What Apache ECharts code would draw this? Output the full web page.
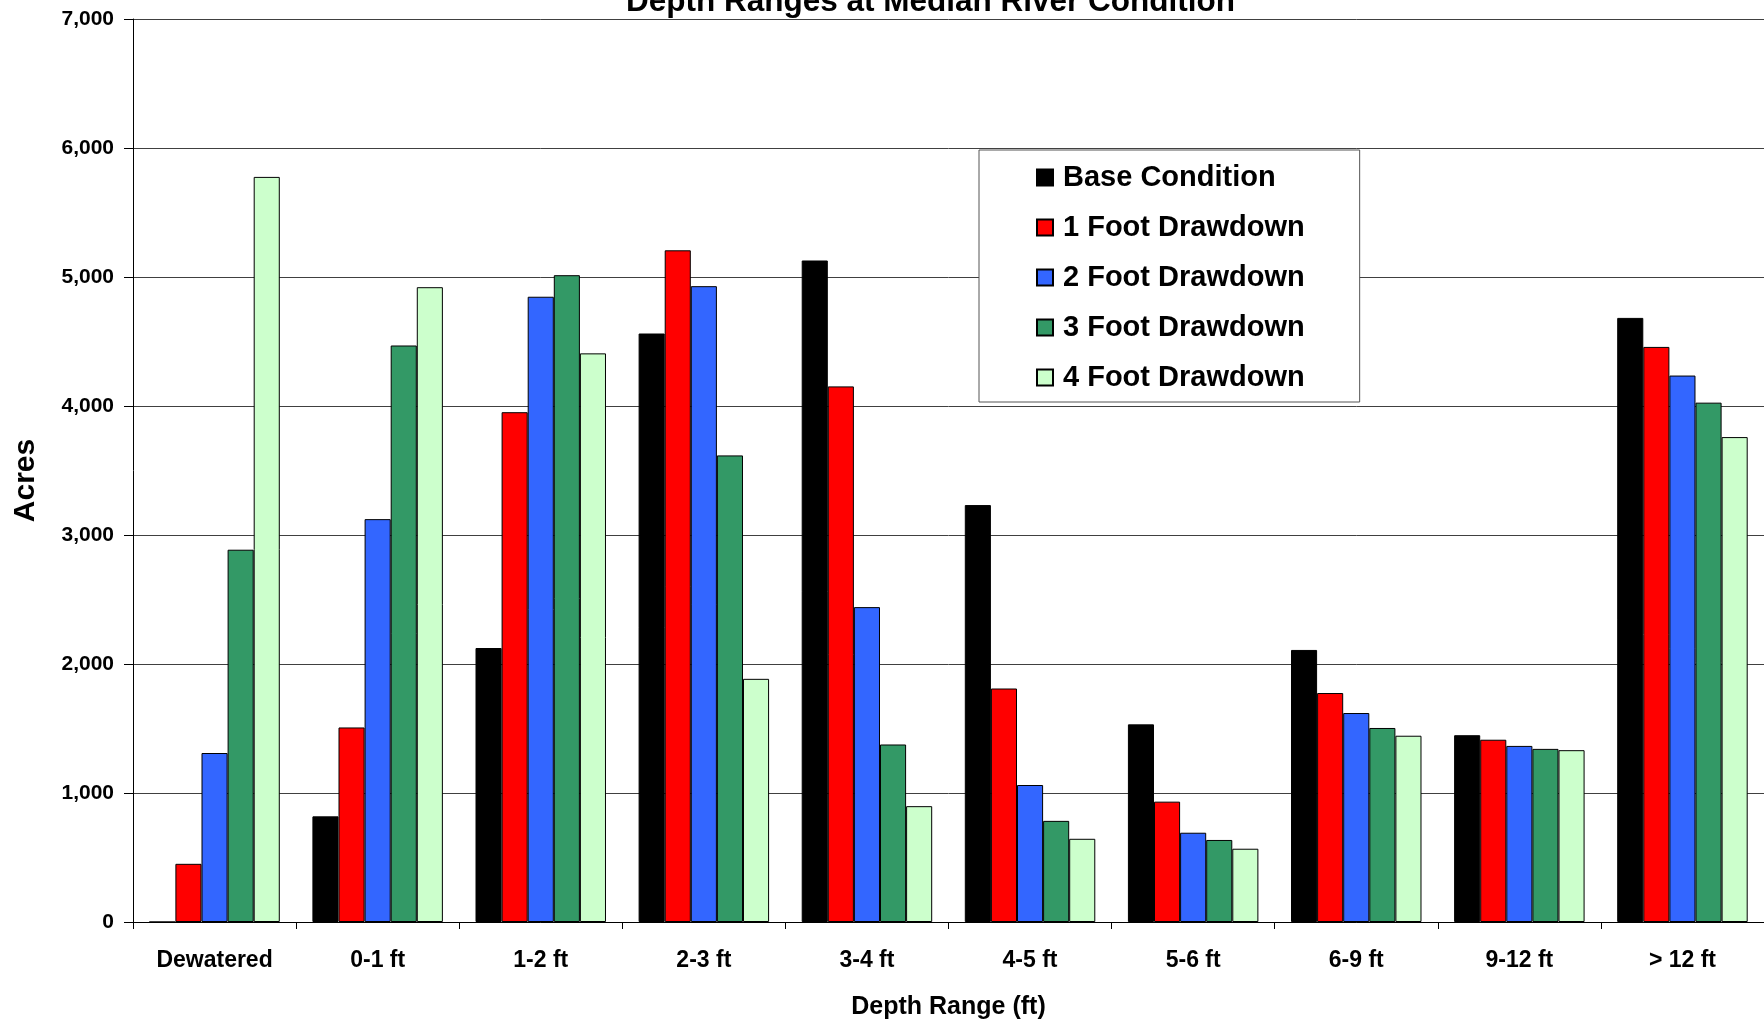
<!DOCTYPE html>
<html>
<head>
<meta charset="utf-8">
<title>Depth Ranges at Median River Condition</title>
<script src="https://cdn.jsdelivr.net/npm/echarts@6/dist/echarts.min.js"></script>
<style>
  html, body { margin: 0; padding: 0; background: #fff; }
  #chart { width: 1764px; height: 1021px; }
</style>
</head>
<body>
<div id="chart"></div>
<script>
// Acreage by depth range for each drawdown scenario
const categories = ['Dewatered', '0-1 ft', '1-2 ft', '2-3 ft', '3-4 ft', '4-5 ft', '5-6 ft', '6-9 ft', '9-12 ft', '> 12 ft'];
const seriesNames = ['Base Condition', '1 Foot Drawdown', '2 Foot Drawdown', '3 Foot Drawdown', '4 Foot Drawdown'];
const baseCondition = [0, 819, 2124, 4562, 5128, 3232, 1532, 2109, 1448, 4683];
const drawdown1 = [451, 1508, 3952, 5207, 4152, 1810, 933, 1775, 1413, 4458];
const drawdown2 = [1310, 3123, 4847, 4929, 2441, 1062, 692, 1620, 1365, 4236];
const drawdown3 = [2886, 4469, 5014, 3617, 1376, 784, 636, 1504, 1342, 4026];
const drawdown4 = [5776, 4921, 4408, 1885, 898, 645, 568, 1444, 1332, 3759];
const yTicks = { min: 0, max: 7000, interval: 1000 };

const colors = ['#000000', '#FF0000', '#3366FF', '#339966', '#CCFFCC'];
const values = [baseCondition, drawdown1, drawdown2, drawdown3, drawdown4];
const FONT = '"Liberation Sans", Arial, Helvetica, sans-serif';

const chart = echarts.init(document.getElementById('chart'), null, { renderer: 'canvas' });

chart.setOption({
  animation: false,
  backgroundColor: '#ffffff',
  title: {
    text: 'Depth Ranges at Median River Condition',
    left: 626,
    top: -14,
    padding: 0,
    textStyle: { fontFamily: FONT, fontSize: 31.5, fontWeight: 'bold', color: '#000' }
  },
  legend: {
    orient: 'vertical',
    left: 979,
    top: 150,
    padding: [13, 55, 10, 57],
    itemWidth: 16,
    itemHeight: 16,
    itemGap: 21,
    icon: 'rect',
    backgroundColor: '#ffffff',
    borderColor: '#555555',
    borderWidth: 1,
    data: seriesNames,
    textStyle: { fontFamily: FONT, fontSize: 29, fontWeight: 'bold', color: '#000', padding: [0, 0, 0, 5] }
  },
  grid: { left: 133, right: 0, top: 19, bottom: 99, containLabel: false, outerBoundsMode: 'none' },
  xAxis: {
    type: 'category',
    data: categories,
    name: 'Depth Range (ft)',
    nameLocation: 'middle',
    nameGap: 73,
    nameTextStyle: { fontFamily: FONT, fontSize: 25, fontWeight: 'bold', color: '#000' },
    axisLine: { lineStyle: { color: '#000', width: 1 } },
    axisTick: { show: true, length: 7, lineStyle: { color: '#000' } },
    axisLabel: { fontFamily: FONT, fontSize: 23, fontWeight: 'bold', color: '#000', margin: 27 },
    splitLine: { show: false }
  },
  yAxis: {
    type: 'value',
    min: yTicks.min,
    max: yTicks.max,
    interval: yTicks.interval,
    name: 'Acres',
    nameLocation: 'middle',
    nameRotate: 90,
    nameGap: 92,
    nameTextStyle: { fontFamily: FONT, fontSize: 30, fontWeight: 'bold', color: '#000', padding: [0, 20, 0, 0] },
    axisLine: { show: true, lineStyle: { color: '#000', width: 1 } },
    axisTick: { show: true, length: 9, lineStyle: { color: '#000' } },
    axisLabel: {
      fontFamily: FONT, fontSize: 21, fontWeight: 'bold', color: '#000', margin: 19,
      formatter: v => v.toLocaleString('en-US')
    },
    splitLine: { show: true, lineStyle: { color: '#404040', width: 1 } }
  },
  series: seriesNames.map((name, i) => ({
    name: name,
    type: 'bar',
    data: values[i],
    barGap: '0%',
    barCategoryGap: '20%',
    itemStyle: { color: colors[i], borderColor: '#000', borderWidth: 1 }
  }))
});
</script>
</body>
</html>
